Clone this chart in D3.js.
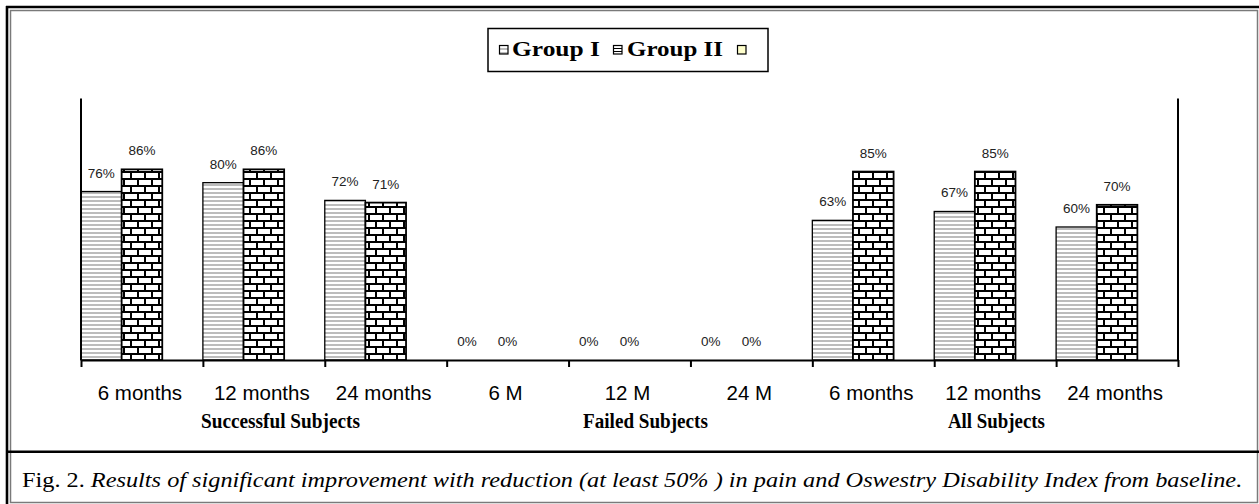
<!DOCTYPE html>
<html><head><meta charset="utf-8">
<script src="https://cdn.jsdelivr.net/npm/d3@7"></script>
<style>html,body{margin:0;padding:0;background:#fff;}svg{display:block;}</style>
</head><body>
<svg id="c" width="1259" height="504"></svg>
<script>
// ---- data ----
const categories = ["6 months","12 months","24 months","6 M","12 M","24 M","6 months","12 months","24 months"];
const groupLabels = ["Successful Subjects","Failed Subjects","All Subjects"];
const seriesNames = ["Group I","Group II",""];
const groupI  = [76,80,72,0,0,0,63,67,60];
const groupII = [86,86,71,0,0,0,85,85,70];
const series3 = [null,null,null,null,null,null,null,null,null];
const captionLead = "Fig. 2. ";
const captionText = "Results of  significant improvement with reduction (at least 50% ) in pain and Oswestry Disability Index from baseline.";

// ---- layout ----
const svg = d3.select("#c");
const W = 1259, H = 504;
const plot = {left:81, right:1178, top:94, bottom:360};
const sans = "'Liberation Sans', Arial, sans-serif";
const serif = "'Liberation Serif', 'Times New Roman', serif";

function fit(sel, x0, targetW){
  const w = sel.node().getComputedTextLength();
  sel.attr("x",0).attr("transform",`translate(${x0},0) scale(${targetW/w},1)`);
}

// patterns
const defs = svg.append("defs");
const pS = defs.append("pattern").attr("id","stripes").attr("patternUnits","userSpaceOnUse")
  .attr("width",4).attr("height",4);
pS.append("rect").attr("width",4).attr("height",4).attr("fill","#fff");
pS.append("rect").attr("width",4).attr("height",2).attr("fill","#bcbcbc");
const pB = defs.append("pattern").attr("id","brick").attr("patternUnits","userSpaceOnUse")
  .attr("width",14).attr("height",14).attr("x",plot.left).attr("y",plot.bottom);
pB.append("rect").attr("width",14).attr("height",14).attr("fill","#000");
[[2,2,12,5],[0,9,7,5],[9,9,5,5]].forEach(r=>pB.append("rect").attr("x",r[0]).attr("y",r[1]).attr("width",r[2]).attr("height",r[3]).attr("fill","#fff"));
const pL = defs.append("pattern").attr("id","minibrick").attr("patternUnits","userSpaceOnUse")
  .attr("width",9).attr("height",3);
pL.append("rect").attr("width",9).attr("height",3).attr("fill","#fff");
pL.append("rect").attr("width",9).attr("height",1).attr("fill","#000");

// frame
svg.append("rect").attr("width",W).attr("height",H).attr("fill","#fff");
svg.append("rect").attr("x",10.5).attr("y",10.5).attr("width",1247).attr("height",492)
  .attr("fill","none").attr("stroke","#7a7a7a").attr("stroke-width",1.5);
svg.append("line").attr("x1",6).attr("x2",W).attr("y1",7).attr("y2",7).attr("stroke","#000").attr("stroke-width",2.6);
svg.append("line").attr("x1",7).attr("x2",7).attr("y1",6).attr("y2",H).attr("stroke","#000").attr("stroke-width",2.6);
svg.append("line").attr("x1",6).attr("x2",W).attr("y1",451.7).attr("y2",451.7).attr("stroke","#000").attr("stroke-width",2.6);

// scales
const x = d3.scaleBand().domain(d3.range(categories.length)).range([plot.left, plot.right]).padding(0);
const xs = d3.scaleBand().domain(d3.range(seriesNames.length)).range([0, x.bandwidth()]).padding(0);
const xEdge = d3.scaleLinear().domain([0, categories.length]).range([plot.left, plot.right]);
const y = d3.scaleLinear().domain([0, 120]).range([plot.bottom, plot.top]);

// bars
const series = [groupI, groupII, series3];
const fills = ["url(#stripes)","url(#brick)","#ffffcc"];
series.forEach((vals, si) => {
  const g = svg.append("g");
  const data = vals.map((v,i)=>({i,v})).filter(d=>d.v!==null);
  g.selectAll("rect").data(data.filter(d=>d.v>0)).join("rect")
    .attr("x", d=>x(d.i)+xs(si)).attr("width", xs.bandwidth())
    .attr("y", d=>y(d.v)).attr("height", d=>y(0)-y(d.v))
    .attr("fill", fills[si]).attr("stroke","#000").attr("stroke-width", si===1?1.8:1.3);
  g.selectAll("text").data(data).join("text")
    .attr("x", d=>x(d.i)+xs(si)+xs.bandwidth()/2).attr("y", d=>y(d.v)-14)
    .attr("text-anchor","middle").attr("font-family",sans).attr("font-size",13.5)
    .attr("fill","#222").text(d=>d.v+"%");
});

// side lines of plot
[0, categories.length].forEach(k=>{
  svg.append("line").attr("x1",xEdge(k)).attr("x2",xEdge(k)).attr("y1",y(118)).attr("y2",y(0))
    .attr("stroke","#000").attr("stroke-width",2);
});

// axis
const ax = svg.append("g").attr("transform",`translate(0,${plot.bottom})`)
  .call(d3.axisBottom(xEdge).tickValues(d3.range(categories.length+1)).tickSize(7).tickSizeOuter(0).tickFormat(""));
ax.select(".domain").attr("stroke","#000").attr("stroke-width",2);
ax.selectAll(".tick line").attr("stroke","#000").attr("stroke-width",2);

// category labels
svg.append("g").selectAll("text").data(categories).join("text")
  .attr("x",(d,i)=>x(i)+x.bandwidth()/2-2).attr("y",400)
  .attr("text-anchor","middle").attr("font-family",sans).attr("font-size",20.5).attr("fill","#000")
  .text(d=>d);

// group labels
const groupSpans = [[201,159],[583,125],[948,97]];
groupLabels.forEach((t,i)=>{
  const s = svg.append("text").attr("y",428).attr("font-family",serif).attr("font-weight","bold")
    .attr("font-size",20).attr("fill","#000").text(t);
  fit(s, groupSpans[i][0], groupSpans[i][1]);
});

// legend
svg.append("rect").attr("x",488).attr("y",28.5).attr("width",280).attr("height",43)
  .attr("fill","#fff").attr("stroke","#000").attr("stroke-width",1.5);
const legItems = [{sx:499, tx:512, tw:88},{sx:613, tx:627, tw:96},{sx:737, tx:null, tw:0}];
const legFills = ["url(#stripes)","url(#minibrick)","#ffffcc"];
seriesNames.forEach((n,i)=>{
  const it = legItems[i];
  svg.append("rect").attr("x",it.sx+0.5).attr("y",45.5).attr("width",8.5).attr("height",8.5)
    .attr("fill",legFills[i]).attr("stroke","#000").attr("stroke-width",1.2);
  if(n){
    const s = svg.append("text").attr("y",56).attr("font-family",serif).attr("font-weight","bold")
      .attr("font-size",21.5).attr("fill","#000").text(n);
    fit(s, it.tx, it.tw);
  }
});

// caption
const cap = svg.append("text").attr("y",487).attr("font-family",serif).attr("font-size",21).attr("fill","#000");
cap.append("tspan").text(captionLead);
cap.append("tspan").attr("font-style","italic").text(captionText);
fit(cap, 22, 1221);
</script>
</body></html>
